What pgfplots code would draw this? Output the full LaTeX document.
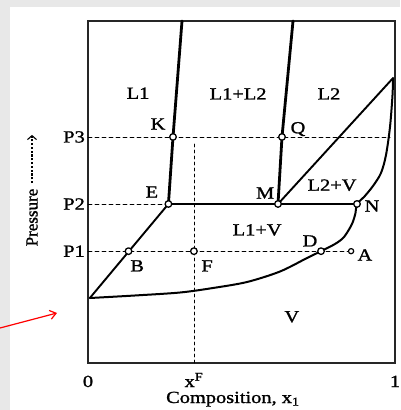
\documentclass[border=0pt]{standalone}
\usepackage{fontspec}
\setmainfont{Liberation Serif}[FakeStretch=1.2, FakeBold=1.2]
\newfontfamily\plainfont{Liberation Serif}[FakeBold=1.2]
\usepackage{pgfplots}
\pgfplotsset{compat=1.18}
\usetikzlibrary{arrows.meta}
\begin{document}
\begin{tikzpicture}[font=\fontsize{17}{20}\selectfont]
\useasboundingbox (0pt,0pt) rectangle (400pt,410pt);
\fill[black!9] (0pt,0pt) rectangle (400pt,410pt);
\fill[white] (10pt,0pt) rectangle (400pt,403pt);
\begin{axis}[
  at={(88pt,47pt)}, anchor=south west,
  scale only axis, width=307pt, height=342pt,
  xmin=0, xmax=1, ymin=0, ymax=1,
  xtick={0,0.345,1}, xticklabels={0, x\textsuperscript{F}, 1},
  ytick={0.327,0.465,0.661}, yticklabels={P1,P2,P3},
  major tick length=0pt,
  clip=false,
  axis line style={line width=1.2pt, black!85},
  tick label style={font=\fontsize{17}{20}\selectfont},
  yticklabel style={anchor=east, inner xsep=0pt, xshift=-3pt},
  xticklabel style={anchor=base, yshift=-24pt},
  every axis plot/.append style={line join=round, line cap=round},
]
% dashed guide lines
\addplot[black, line width=0.8pt, dash pattern=on 4pt off 3pt] coordinates {(0,0.661) (0.984,0.661)};
\addplot[black, line width=0.8pt, dash pattern=on 4pt off 3pt] coordinates {(0,0.465) (0.262,0.465)};
\addplot[black, line width=0.8pt, dash pattern=on 4pt off 3pt] coordinates {(0,0.327) (0.857,0.327)};
\addplot[black, line width=0.8pt, dash pattern=on 3pt off 3pt] coordinates {(0.345,0) (0.345,0.646)};
% phase boundaries
\addplot[black, line width=2.8pt] coordinates {(0.3062,1) (0.2769,0.661) (0.262,0.465)};
\addplot[black, line width=2.8pt] coordinates {(0.6678,1) (0.6319,0.661) (0.6189,0.465)};
\addplot[black, line width=2.2pt] coordinates {(0.262,0.465) (0.876,0.465)};
\addplot[black, line width=1.9pt] coordinates {(0.262,0.465) (0.006,0.190)};
\addplot[black, line width=1.9pt] coordinates {(0.6189,0.465) (0.9935,0.833)};
\addplot[black, line width=2.0pt, smooth] coordinates {
 (0.006,0.190) (0.1531,0.1974) (0.2997,0.2061) (0.4072,0.2193) (0.5179,0.2368)
 (0.6254,0.2675) (0.7134,0.3070) (0.759,0.327) (0.8046,0.3480) (0.8339,0.3684)
 (0.8599,0.4064) (0.8713,0.4386) (0.8762,0.465)
 (0.8990,0.4854) (0.9283,0.5175) (0.9544,0.5556) (0.9707,0.6082) (0.9837,0.6901)
 (0.9919,0.7836) (0.9935,0.8333)};
% marked points
\addplot[only marks, mark=*, mark size=3.3pt, mark options={fill=white, draw=black, line width=1.3pt}]
 coordinates {(0.132,0.327) (0.262,0.465) (0.2769,0.661) (0.6319,0.661) (0.6189,0.465) (0.8762,0.465) (0.759,0.327) (0.345,0.327)};
\addplot[only marks, mark=*, mark size=2.6pt, mark options={fill=white, draw=black, line width=1.2pt}]
 coordinates {(0.857,0.327)};
% region and point labels
\node at (axis cs:0.163,0.789) {L1};
\node at (axis cs:0.489,0.787) {L1+L2};
\node at (axis cs:0.785,0.787) {L2};
\node at (axis cs:0.228,0.699) {K};
\node at (axis cs:0.684,0.684) {Q};
\node at (axis cs:0.208,0.500) {E};
\node at (axis cs:0.577,0.497) {M};
\node at (axis cs:0.795,0.520) {L2+V};
\node at (axis cs:0.925,0.459) {N};
\node at (axis cs:0.551,0.389) {L1+V};
\node at (axis cs:0.723,0.357) {D};
\node at (axis cs:0.902,0.316) {A};
\node at (axis cs:0.160,0.284) {B};
\node at (axis cs:0.388,0.284) {F};
\node at (axis cs:0.664,0.135) {V};
% axis titles
\node[anchor=base, yshift=-40pt] at (axis cs:0.472,0) {Composition, x\textsubscript{1}};
\node[rotate=90, font=\plainfont\fontsize{17}{20}\selectfont] at (axis cs:-0.1824,0.4254) {Pressure};
\draw[black, line width=1.1pt, dash pattern=on 2.2pt off 1.6pt, -{Straight Barb[length=4pt,width=9pt]}] (axis cs:-0.1824,0.526) -- (axis cs:-0.1824,0.667);
\end{axis}
\draw[red, line width=1.2pt, -{Straight Barb[length=6pt,width=9pt]}] (0pt,82pt) -- (57pt,97pt);
\end{tikzpicture}
\end{document}
